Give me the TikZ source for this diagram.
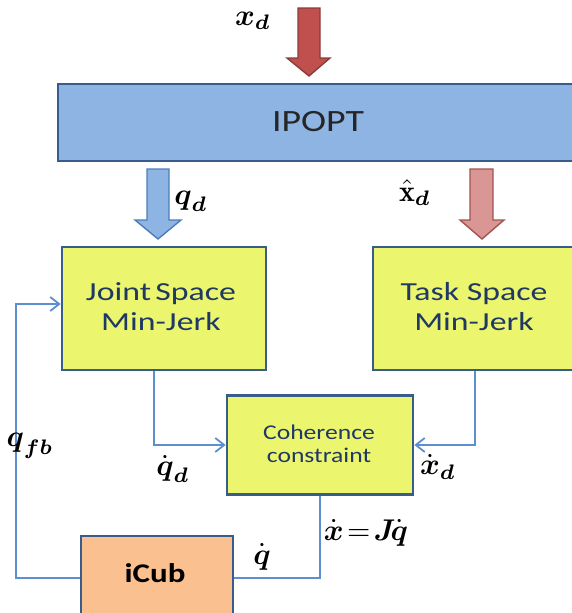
\documentclass[tikz,border=0pt]{standalone}
\usepackage{amsmath}
\usepackage{graphicx}
\usepackage{fontspec}
\usetikzlibrary{arrows.meta}
\newfontfamily\boxfont[FakeStretch=1.22]{Carlito}
\newfontfamily\widefont[FakeStretch=1.3]{Carlito}
\definecolor{bordercol}{HTML}{385D8A}
\definecolor{ipoptfill}{HTML}{8EB4E3}
\definecolor{yellowfill}{HTML}{EBF56E}
\definecolor{orangefill}{HTML}{FAC090}
\definecolor{linecol}{HTML}{5B8FD0}
\definecolor{navytext}{HTML}{1F3864}
\definecolor{redfill}{HTML}{C0504D}
\definecolor{redborder}{HTML}{8C3A38}
\definecolor{bluefill}{HTML}{8EB4E3}
\definecolor{blueborder}{HTML}{4A7EBB}
\definecolor{pinkfill}{HTML}{D99694}
\definecolor{pinkborder}{HTML}{A05552}
\newcommand{\biglab}[1]{\scalebox{3.0}[3.0]{$#1$}}
\tikzset{
  blk/.style={draw=bordercol, line width=2.6pt, inner sep=0pt},
  ytext/.style={text=navytext, align=center, font=\widefont\fontsize{26}{30}\selectfont},
  conn/.style={draw=linecol, line width=1.8pt, -{Straight Barb[length=9pt,width=14pt,line width=1.8pt]}},
  plain/.style={draw=linecol, line width=1.8pt},
  lab/.style={inner sep=0pt},
  barrow/.style={line width=1.4pt, line join=miter}
}
\begin{document}
\begin{tikzpicture}[x=1pt,y=-1pt]
\useasboundingbox (0,0) rectangle (571,613);
% block arrows
\draw[barrow, fill=redfill, draw=redborder] (298,8) -- (320,8) -- (320,58) -- (330,58) -- (309,76) -- (287,58) -- (298,58) -- cycle;
\draw[barrow, fill=bluefill, draw=blueborder] (147,169) -- (169,169) -- (169,220) -- (181,220) -- (158,239) -- (135,220) -- (147,220) -- cycle;
\draw[barrow, fill=pinkfill, draw=pinkborder] (470,169) -- (493,169) -- (493,220) -- (504,220) -- (482,239) -- (460,220) -- (470,220) -- cycle;
% IPOPT
\node[blk, fill=ipoptfill, minimum width=540pt, minimum height=77pt] (ipopt) at (328,122.5) {};
\node[text=black!85, font=\boxfont\fontsize{31}{36}\selectfont] (ipopttext) at (318,122) {IPOPT};
% boxes
\node[blk, fill=yellowfill, minimum width=204pt, minimum height=123pt] (joint) at (164,308.5) {};
\node[ytext] (jointtext) at (161,307) {Joint\,Space\\Min-Jerk};
\node[blk, fill=yellowfill, minimum width=204pt, minimum height=123pt] (task) at (475,308.5) {};
\node[ytext] (tasktext) at (474,307) {Task Space\\Min-Jerk};
\node[blk, fill=yellowfill, minimum width=186pt, minimum height=99pt] (coh) at (320,445) {};
\node[ytext, font=\boxfont\fontsize{21}{23}\selectfont] (cohtext) at (319,444) {Coherence\\constraint};
\node[blk, fill=orangefill, minimum width=152pt, minimum height=84pt] (icub) at (157,578) {};
\node[font=\boxfont\bfseries\fontsize{27}{30}\selectfont, text=black] (icubtext) at (155,573) {iCub};
% connectors
\coordinate (fb) at (16,0);
\draw[conn] ([xshift=-10pt]joint.south) |- (coh.west);
\draw[conn] (task.south) |- (coh.east);
\draw[plain] (coh.south) |- (icub.east);
\draw[conn] (icub.west) -- (icub.west -| fb) |- ([yshift=4.5pt]joint.west);
% labels
\node[lab] (lxd) at (253,21) {\biglab{\boldsymbol{x}_{\boldsymbol{d}}}};
\node[lab] (lqd) at (191,201) {\biglab{\boldsymbol{q}_{\boldsymbol{d}}}};
\node[lab] (lxhat) at (415,193) {\biglab{\hat{\mathbf{x}}_{\boldsymbol{d}}}};
\node[lab] (lqfb) at (30,446) {\biglab{\boldsymbol{q}_{\boldsymbol{fb}}}};
\node[lab] (lqdd) at (173,469) {\biglab{\dot{\boldsymbol{q}}_{\boldsymbol{d}}}};
\node[lab] (lxdd) at (438,467) {\biglab{\dot{\boldsymbol{x}}_{\boldsymbol{d}}}};
\node[lab] (lxjq) at (366,533) {\biglab{\dot{\boldsymbol{x}}\!=\!\boldsymbol{J}\!\dot{\boldsymbol{q}}}};
\node[lab] (lqdot) at (262,557) {\biglab{\dot{\boldsymbol{q}}}};
\end{tikzpicture}
\end{document}
